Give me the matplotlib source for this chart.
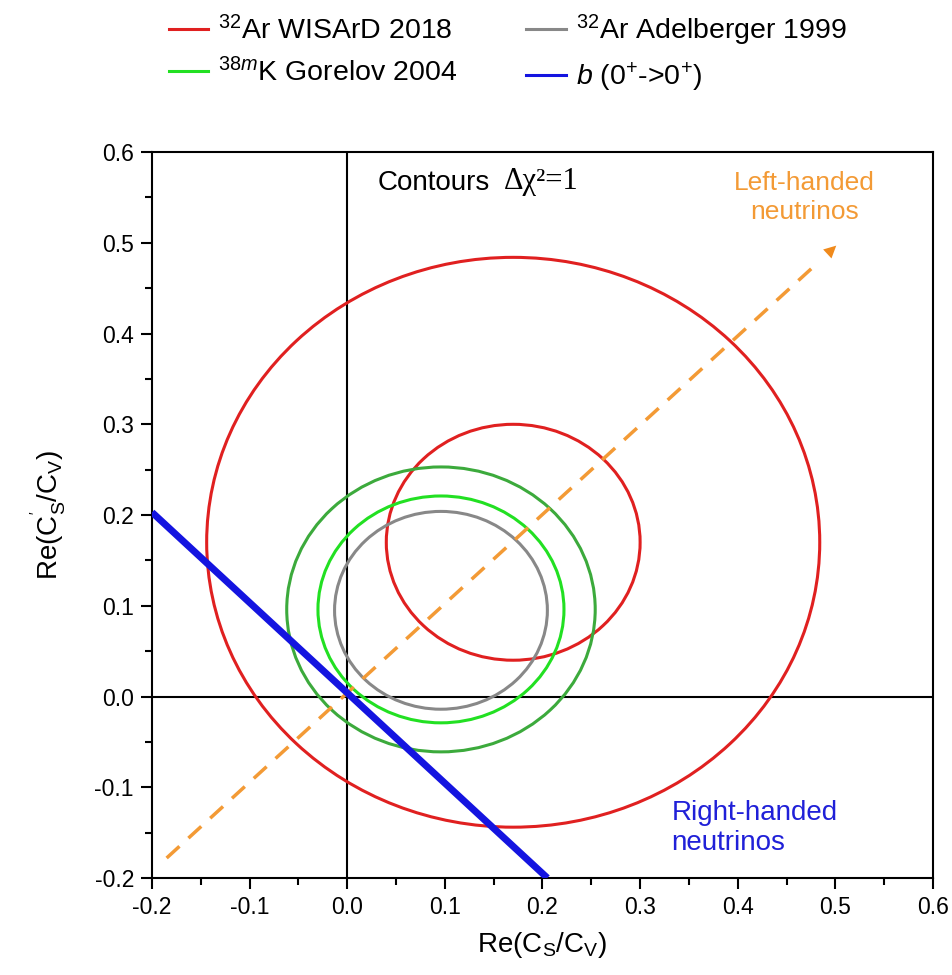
import matplotlib
matplotlib.use('Agg')
import matplotlib.pyplot as plt
import numpy as np
from matplotlib.patches import Ellipse
from matplotlib.lines import Line2D
from matplotlib.ticker import MultipleLocator, FormatStrFormatter

plt.rcParams['font.family'] = 'Liberation Sans'
plt.rcParams['mathtext.fontset'] = 'custom'
plt.rcParams['mathtext.rm'] = 'Liberation Sans'
plt.rcParams['mathtext.it'] = 'Liberation Sans:italic'
plt.rcParams['axes.unicode_minus'] = False

# contours (delta chi^2 = 1)
contour_x = [0.170, 0.170, 0.096, 0.096, 0.096]
contour_y = [0.170, 0.170, 0.096, 0.096, 0.095]
contour_rx = [0.314, 0.130, 0.158, 0.126, 0.109]
contour_ry = [0.314, 0.130, 0.157, 0.125, 0.109]
contour_col = ['#e02020', '#e02020', '#3caa3c', '#22e022', '#888888']

# b (0+ -> 0+) line and left-handed neutrino direction
b_x = [-0.2, 0.205]
b_y = [0.203, -0.2]
lh_x = [-0.185, 0.503]
lh_y = [-0.178, 0.499]

legend_labels = [r'$^{32}$Ar WISArD 2018', r'$^{38m}$K Gorelov 2004',
                 r'$^{32}$Ar Adelberger 1999', r'$\mathit{b}$ (0$^{+}$->0$^{+}$)']
legend_cols = ['#e02020', '#22e022', '#888888', '#1414e0']

fig = plt.figure(figsize=(9.53, 9.75), dpi=100)
ax = fig.add_axes([0.1595, 0.0995, 0.8195, 0.7445])

ax.axhline(0, color='black', lw=1.5, zorder=1)
ax.axvline(0, color='black', lw=1.5, zorder=1)

for cx, cy, rx, ry, c in zip(contour_x, contour_y, contour_rx, contour_ry, contour_col):
    ax.add_patch(Ellipse((cx, cy), 2 * rx, 2 * ry, fill=False, edgecolor=c, lw=2.2, zorder=2))

ax.plot(lh_x[:1] + [lh_x[1] - 0.02], lh_y[:1] + [lh_y[1] - 0.02], color='#f39a35',
        lw=2.5, dashes=(5, 3.5), zorder=3)
ax.annotate('', xy=(lh_x[1], lh_y[1]), xytext=(lh_x[1] - 0.03, lh_y[1] - 0.03),
            arrowprops=dict(arrowstyle='-|>', color='#f08a1c', lw=0, mutation_scale=22), zorder=3)

ax.plot(b_x, b_y, color='#1414e0', lw=5, zorder=4, solid_capstyle='butt')

ax.text(0.031, 0.566, 'Contours', fontsize=20, va='center', ha='left')
ax.text(0.160, 0.568, 'Δχ²=1', fontsize=22, va='center', ha='left', family='Liberation Serif')
ax.text(0.468, 0.55, 'Left-handed\nneutrinos', fontsize=19, color='#f39a35',
        ha='center', va='center', multialignment='center', linespacing=1.3)
ax.text(0.332, -0.145, 'Right-handed\nneutrinos', fontsize=20, color='#2020d8',
        ha='left', va='center', linespacing=1.2)

ax.set_xlim(-0.2, 0.6)
ax.set_ylim(-0.2, 0.6)
ax.xaxis.set_major_locator(MultipleLocator(0.1))
ax.xaxis.set_minor_locator(MultipleLocator(0.05))
ax.yaxis.set_major_locator(MultipleLocator(0.1))
ax.yaxis.set_minor_locator(MultipleLocator(0.05))
ax.xaxis.set_major_formatter(FormatStrFormatter('%.1f'))
ax.yaxis.set_major_formatter(FormatStrFormatter('%.1f'))
ax.tick_params(which='major', direction='out', length=8, width=1.5, labelsize=16.5, pad=5)
ax.tick_params(which='minor', direction='out', length=5, width=1.5)
for s in ax.spines.values():
    s.set_linewidth(1.5)

ax.set_xlabel(r'Re(C$_\mathrm{S}$/C$_\mathrm{V}$)', fontsize=20, labelpad=8)
ax.set_ylabel(r"Re(C$_\mathrm{S}^{'}$/C$_\mathrm{V}$)", fontsize=20, labelpad=18)

handles = [Line2D([], [], color=c, lw=2.2) for c in legend_cols]
fig.legend(handles, legend_labels, loc='upper left', bbox_to_anchor=(0.165, 0.999), ncol=2,
           frameon=False, fontsize=20.5, handlelength=1.4, columnspacing=2.4, handletextpad=0.35,
           labelspacing=0.45, borderaxespad=0.0)

fig.savefig('out.png', dpi=100)
